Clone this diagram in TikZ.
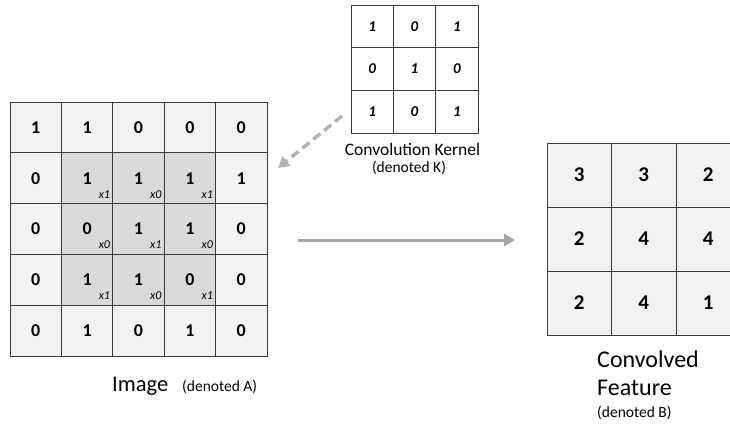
\documentclass[tikz,border=0pt]{standalone}
\usepackage{fontspec}
\setmainfont{Carlito}
\usetikzlibrary{arrows.meta}
\definecolor{cellfill}{HTML}{F2F2F2}
\definecolor{hlfill}{HTML}{D9D9D9}
\definecolor{arrowgray}{HTML}{A6A6A6}
\definecolor{gridline}{HTML}{3A3A3A}
\tikzset{
  gcell/.style={draw=gridline, line width=0.9pt, rectangle, inner sep=0pt, font=\bfseries},
  imgcell/.style={gcell, minimum width=51.4pt, minimum height=50.8pt, font=\fontsize{18}{20}\selectfont\bfseries},
  kcell/.style={gcell, fill=white, minimum width=42.33pt, minimum height=42.67pt, font=\fontsize{15}{17}\selectfont\bfseries\itshape},
  ocell/.style={gcell, fill=cellfill, minimum width=64.5pt, minimum height=64pt, font=\fontsize{21}{24}\selectfont\bfseries},
  wlab/.style={anchor=base east, inner sep=0pt, font=\fontsize{12}{14}\selectfont\itshape},
  biglab/.style={inner sep=0pt, font=\fontsize{22.5}{26}\selectfont},
  denlab/.style={inner sep=0pt, font=\fontsize{15.5}{18}\selectfont},
  arr/.style={draw=arrowgray, line width=3pt, -{Triangle[length=11pt,width=12pt]}}
}
\begin{document}
\begin{tikzpicture}[x=1pt,y=-1pt]
\useasboundingbox (0,0) rectangle (730,426);
\clip (0,0) rectangle (730,426);
% Image grid (A)
\foreach \v [count=\n from 0] in {1,1,0,0,0, 0,1,1,1,1, 0,0,1,1,0, 0,1,1,0,0, 0,1,0,1,0} {
  \pgfmathtruncatemacro\r{int(\n/5)}
  \pgfmathtruncatemacro\c{mod(\n,5)}
  \pgfmathtruncatemacro\hl{and(and(\r>0,\r<4),and(\c>0,\c<4))}
  \ifnum\hl=1 \def\fc{hlfill}\else\def\fc{cellfill}\fi
  \node[imgcell, fill=\fc] (A-\r-\c) at ({10+51.4*(\c+0.5)},{102+50.8*(\r+0.5)}) {\v};
  \ifnum\hl=1
    \pgfmathtruncatemacro\w{mod(\r+\c+1,2)}
    \node[wlab] (W-\r-\c) at ([xshift=-3pt,yshift=6pt]A-\r-\c.south east) {x\w};
  \fi
}
% Kernel grid (K)
\foreach \v [count=\n from 0] in {1,0,1, 0,1,0, 1,0,1} {
  \pgfmathtruncatemacro\r{int(\n/3)}
  \pgfmathtruncatemacro\c{mod(\n,3)}
  \node[kcell] (K-\r-\c) at ({351+42.33*(\c+0.5)},{5+42.67*(\r+0.5)}) {\v};
}
% Output grid (B)
\foreach \v [count=\n from 0] in {3,3,2, 2,4,4, 2,4,1} {
  \pgfmathtruncatemacro\r{int(\n/3)}
  \pgfmathtruncatemacro\c{mod(\n,3)}
  \node[ocell] (B-\r-\c) at ({547+64.5*(\c+0.5)},{143+64*(\r+0.5)}) {\v};
}
% Labels
\node[biglab, anchor=base west] (imgLabel) at (112,391) {Image};
\node[denlab, anchor=base west] (imgDen) at (182,391) {(denoted A)};
\node[inner sep=0pt, anchor=base, font=\fontsize{17.5}{20}\selectfont] (kerLabel) at (412.5,155) {Convolution Kernel};
\node[denlab, anchor=base] (kerDen) at (409,172) {(denoted K)};
\node[inner sep=0pt, anchor=base west, font=\fontsize{24}{28}\selectfont] (featLabel1) at (597,367) {Convolved};
\node[inner sep=0pt, anchor=base west, font=\fontsize{24}{28}\selectfont] (featLabel2) at (597,395) {Feature};
\node[denlab, anchor=base west] (featDen) at (597,417) {(denoted B)};
% Arrows
\coordinate (dstart) at (342,116);
\coordinate (dend) at (278,168);
\draw[arr, draw=arrowgray!85, line width=3.5pt, dash pattern=on 9pt off 5pt] (dstart) -- (dend);
\coordinate (sstart) at (298,240);
\coordinate (send) at (515,240);
\draw[arr] (sstart) -- (send);
\end{tikzpicture}
\end{document}
